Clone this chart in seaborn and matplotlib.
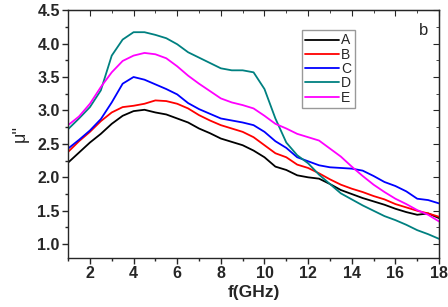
import numpy as np
import pandas as pd
import matplotlib
matplotlib.use("Agg")
import matplotlib.pyplot as plt
import seaborn as sns
from matplotlib.ticker import MultipleLocator

# Frequency grid (GHz)
freq = [1, 1.5, 2, 2.5, 3, 3.5, 4, 4.5, 5, 5.5, 6, 6.5, 7, 7.5, 8, 8.5, 9, 9.5,
        10, 10.5, 11, 11.5, 12, 12.5, 13, 13.5, 14, 14.5, 15, 15.5, 16, 16.5, 17, 17.5, 18]

# mu'' values
mu_A = [2.22, 2.37, 2.52, 2.65, 2.80, 2.92, 2.99, 3.01, 2.97, 2.94, 2.88, 2.82, 2.73, 2.66, 2.58, 2.53, 2.48, 2.40,
        2.30, 2.16, 2.11, 2.03, 2.00, 1.98, 1.90, 1.81, 1.75, 1.69, 1.64, 1.59, 1.53, 1.48, 1.44, 1.46, 1.39]
mu_B = [2.38, 2.54, 2.68, 2.84, 2.97, 3.05, 3.07, 3.10, 3.15, 3.14, 3.10, 3.03, 2.93, 2.85, 2.78, 2.73, 2.68, 2.60,
        2.48, 2.36, 2.30, 2.19, 2.14, 2.06, 1.97, 1.89, 1.83, 1.78, 1.72, 1.67, 1.60, 1.55, 1.50, 1.46, 1.41]
mu_C = [2.43, 2.56, 2.70, 2.87, 3.12, 3.40, 3.50, 3.46, 3.39, 3.32, 3.24, 3.11, 3.02, 2.95, 2.88, 2.85, 2.82, 2.78,
        2.68, 2.54, 2.44, 2.30, 2.24, 2.18, 2.15, 2.14, 2.13, 2.10, 2.02, 1.93, 1.87, 1.79, 1.68, 1.66, 1.61]
mu_D = [2.72, 2.88, 3.05, 3.30, 3.82, 4.06, 4.17, 4.17, 4.13, 4.08, 3.99, 3.87, 3.79, 3.71, 3.63, 3.60, 3.60, 3.57,
        3.32, 2.88, 2.52, 2.33, 2.21, 2.04, 1.90, 1.76, 1.67, 1.58, 1.50, 1.42, 1.36, 1.29, 1.21, 1.15, 1.08]
mu_E = [2.78, 2.91, 3.10, 3.35, 3.57, 3.74, 3.82, 3.86, 3.84, 3.78, 3.66, 3.52, 3.40, 3.29, 3.18, 3.12, 3.08, 3.03,
        2.92, 2.80, 2.73, 2.65, 2.60, 2.55, 2.43, 2.31, 2.16, 2.02, 1.89, 1.78, 1.68, 1.60, 1.51, 1.44, 1.34]

samples = ["A", "B", "C", "D", "E"]
colors = ["black", "red", "blue", "#008080", "magenta"]

df = pd.concat([pd.DataFrame({"f": freq, "mu": v, "sample": s})
                for s, v in zip(samples, [mu_A, mu_B, mu_C, mu_D, mu_E])])

sns.set_style("ticks")
plt.rcParams["font.family"] = ["Liberation Sans", "DejaVu Sans"]

fig = plt.figure(figsize=(4.48, 3.07), dpi=100)
ax = fig.add_axes([0.152, 0.161, 0.828, 0.806])

sns.lineplot(data=df, x="f", y="mu", hue="sample", palette=colors, linewidth=1.3, ax=ax)

ax.set_xlim(1, 18)
ax.set_ylim(0.8, 4.5)
ax.xaxis.set_major_locator(MultipleLocator(2))
ax.xaxis.set_minor_locator(MultipleLocator(1))
ax.yaxis.set_major_locator(MultipleLocator(0.5))
ax.yaxis.set_minor_locator(MultipleLocator(0.25))
ax.tick_params(which="both", direction="out", width=1, labelsize=11.5, pad=2)
ax.tick_params(which="major", length=4)
ax.tick_params(which="minor", length=2.5)
for lab in ax.get_xticklabels() + ax.get_yticklabels():
    lab.set_fontweight("bold")

# mirrored inward ticks on top and right
top = ax.secondary_xaxis("top")
top.xaxis.set_major_locator(MultipleLocator(2))
top.xaxis.set_minor_locator(MultipleLocator(1))
top.tick_params(which="both", direction="in", labeltop=False)
top.tick_params(which="major", length=4)
top.tick_params(which="minor", length=2.5)
right = ax.secondary_yaxis("right")
right.yaxis.set_major_locator(MultipleLocator(0.5))
right.yaxis.set_minor_locator(MultipleLocator(0.25))
right.tick_params(which="both", direction="in", labelright=False)
right.tick_params(which="major", length=4)
right.tick_params(which="minor", length=2.5)

for sp in ax.spines.values():
    sp.set_linewidth(1)
    sp.set_visible(True)

ax.set_xlabel("f(GHz)", fontsize=12.5, fontweight="bold", labelpad=3)
ax.set_ylabel("\u03bc''", fontsize=13, labelpad=6)

ax.text(17.3, 4.2, "b", fontsize=12, ha="center", va="center")

ax.legend(title=None, loc="upper left", bbox_to_anchor=(0.63, 0.92), frameon=True, fancybox=False,
          edgecolor="gray", fontsize=10, handlelength=2.4, handletextpad=0.2, labelspacing=0.02,
          borderpad=0.25, borderaxespad=0)

fig.savefig("out.png", dpi=100)
